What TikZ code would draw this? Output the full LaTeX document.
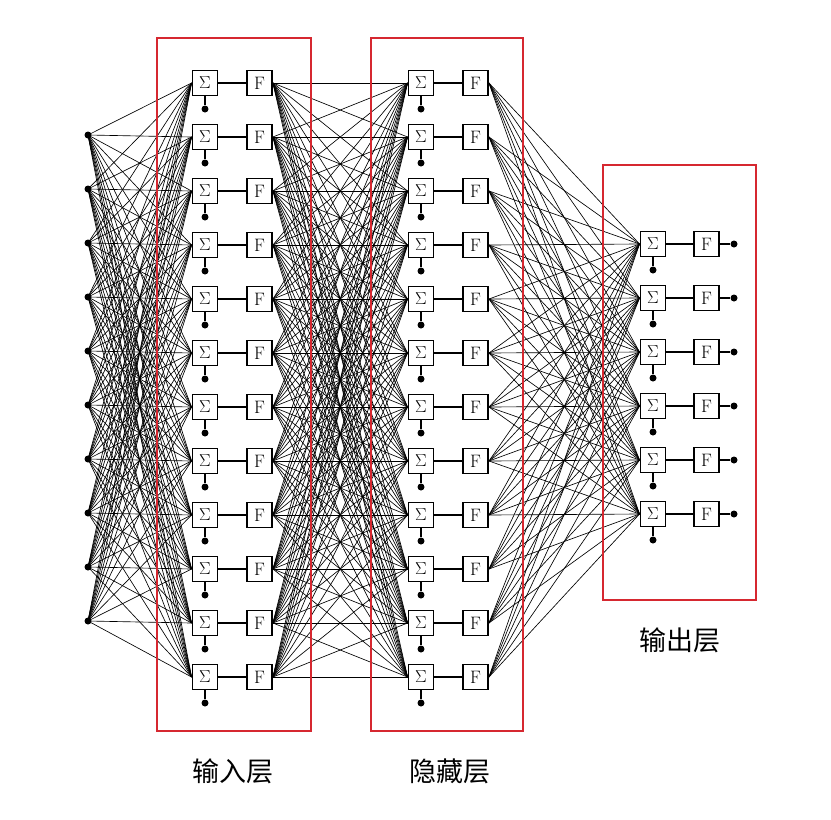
\documentclass[tikz,border=0pt]{standalone}
\usepackage{fontspec}
\newfontfamily\cjk{Noto Sans CJK SC}
\definecolor{lred}{RGB}{214,40,48}
\begin{document}
\begin{tikzpicture}[x=1pt,y=-1pt,
  box/.style={draw, line width=1.9pt, minimum size=25pt, inner sep=0pt, font=\fontsize{18}{18}\selectfont, fill=white},
  dotn/.style={circle, fill, inner sep=0pt, minimum size=7pt},
  conn/.style={line width=0.65pt},
  link/.style={line width=1.9pt},
  layer/.style={draw=lred, line width=2.8pt},
  lab/.style={font=\cjk\fontsize{27}{27}\selectfont}]
\useasboundingbox (0,0) rectangle (831,820);
% input points
\foreach \i in {1,...,10} \node[dotn] (x\i) at (88,{135+54*(\i-1)}) {};
% input and hidden layers
\foreach \i in {1,...,12} {
  \node[box] (as\i) at (205,{83+54*(\i-1)}) {$\Sigma$};
  \node[box] (af\i) at (259.5,{83+54*(\i-1)}) {F};
  \node[dotn] (ab\i) at (205,{109+54*(\i-1)}) {};
  \draw[link] (as\i) -- (af\i);
  \draw[link] (as\i) -- (ab\i);
  \node[box] (hs\i) at (421,{83+54*(\i-1)}) {$\Sigma$};
  \node[box] (hf\i) at (475.5,{83+54*(\i-1)}) {F};
  \node[dotn] (hb\i) at (421,{109+54*(\i-1)}) {};
  \draw[link] (hs\i) -- (hf\i);
  \draw[link] (hs\i) -- (hb\i);
}
% output layer
\foreach \k in {1,...,6} {
  \node[box] (os\k) at (653,{244+54*(\k-1)}) {$\Sigma$};
  \node[box] (of\k) at (706.5,{244+54*(\k-1)}) {F};
  \node[dotn] (ob\k) at (653,{270+54*(\k-1)}) {};
  \node[dotn] (oo\k) at (734,{244+54*(\k-1)}) {};
  \draw[link] (os\k) -- (of\k);
  \draw[link] (os\k) -- (ob\k);
  \draw[link] (of\k) -- (oo\k);
}
% connections
\foreach \i in {1,...,10} \foreach \j in {1,...,12} \draw[conn] (x\i.center) -- (as\j.west);
\foreach \i in {1,...,12} \foreach \j in {1,...,12} \draw[conn] (af\i.east) -- (hs\j.west);
\foreach \i in {1,...,12} \foreach \j in {1,...,6} \draw[conn] (hf\i.east) -- (os\j.west);
% layer frames
\draw[layer] (157,38) rectangle (311,731);
\draw[layer] (371,38) rectangle (523,731);
\draw[layer] (603,165) rectangle (756,600);
% labels
\node[lab] (l1) at (233,771) {输入层};
\node[lab] (l2) at (450,771) {隐藏层};
\node[lab] (l3) at (680,640) {输出层};
\end{tikzpicture}
\end{document}
